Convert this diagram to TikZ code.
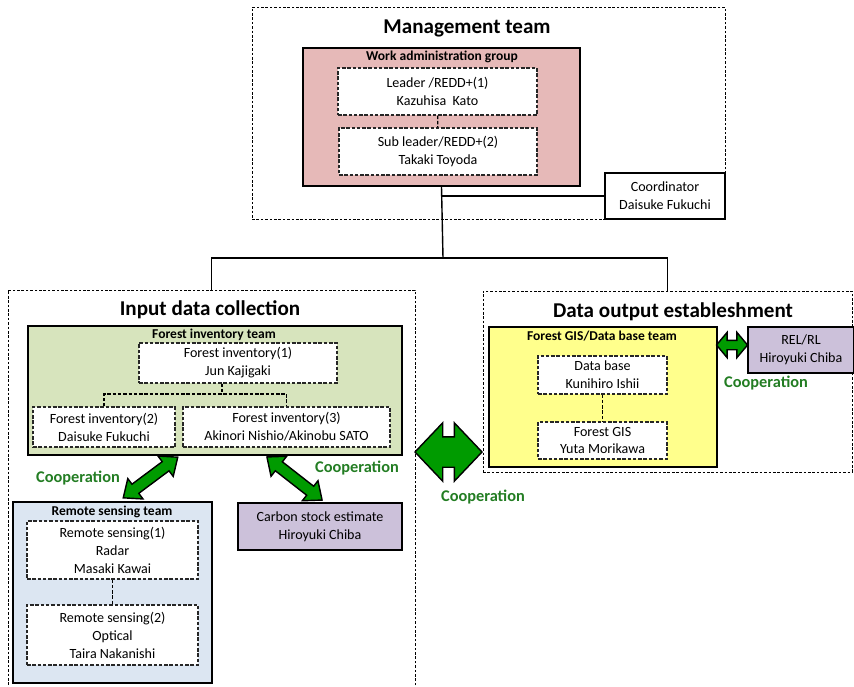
\documentclass[tikz,border=0pt]{standalone}
\usepackage{fontspec}
\setmainfont{Carlito}
\usetikzlibrary{arrows.meta,positioning,calc,shapes.arrows}
\definecolor{mgmtpink}{RGB}{230,185,184}
\definecolor{invgreen}{RGB}{215,228,189}
\definecolor{gisyellow}{RGB}{255,255,140}
\definecolor{rsblue}{RGB}{220,230,242}
\definecolor{lilac}{RGB}{204,193,218}
\definecolor{coopgreen}{RGB}{0,155,0}
\definecolor{cooptext}{RGB}{35,125,35}
\tikzset{
  sz/.style 2 args={minimum width=#1*0.02cm,minimum height=#2*0.02cm},
  area/.style={draw=black,dash pattern=on 1.5pt off 1pt,line width=.5pt,inner sep=0pt},
  team/.style={draw=black,line width=1.3pt,inner sep=0pt},
  member/.style={draw=black!85,fill=white,dash pattern=on 2pt off 1pt,line width=.7pt,
                 font=\fontsize{8}{10.2}\selectfont,align=center,inner sep=0pt},
  plain/.style={draw=black,fill=white,line width=.6pt,
                font=\fontsize{8}{10.2}\selectfont,align=center,inner sep=0pt},
  extra/.style={draw=black,fill=lilac,line width=1pt,
                font=\fontsize{8}{10.2}\selectfont,align=center,inner sep=0pt},
  ttl/.style={font=\fontsize{12}{14}\selectfont\bfseries},
  hdr/.style={font=\fontsize{7.7}{9}\selectfont\bfseries},
  coop/.style={font=\fontsize{9.3}{11}\selectfont\bfseries,text=cooptext},
  link/.style={line width=.8pt},
  tie/.style={line width=.7pt,dash pattern=on 2pt off 1pt},
  fat/.style={double arrow,draw=black,fill=coopgreen,line width=.8pt,inner xsep=0pt},
}
\begin{document}
\begin{tikzpicture}[x=0.02cm,y=-0.02cm]
  \useasboundingbox (0,0) rectangle (854,686);
  % management team
  \node[area,sz={473}{212}] (mgmt) at (488.5,113) {};
  \node[ttl] (mgmtttl) at (467,28) {Management team};
  \node[team,fill=mgmtpink,sz={277}{138}] (admin) at (441.5,117) {};
  \node[hdr] (adminhdr) at (442,57) {Work administration group};
  \node[member,sz={199}{47}] (leader) at (437.5,91.5) {Leader /REDD+(1)\\Kazuhisa\ \ Kato};
  \node[member,sz={198}{47}] (subleader) at (438,151.5) {Sub leader/REDD+(2)\\Takaki Toyoda};
  \draw[tie] (leader) -- (subleader);
  \node[plain,sz={120}{46}] (coord) at (665,196) {Coordinator\\Daisuke Fukuchi};
  \coordinate (split) at (443,258);
  \draw[link] (admin.south) -- (split);
  \draw[link] (admin.south |- coord.west) -- (coord.west);

  % input data collection
  \node[area,sz={407}{410}] (input) at (211.5,495) {};
  \node[ttl] (inputttl) at (210,310) {Input data collection};
  \node[team,fill=invgreen,sz={374}{129}] (fiteam) at (215,390.5) {};
  \node[hdr] (fihdr) at (214,335) {Forest inventory team};
  \node[member,sz={198}{40}] (fi1) at (238,363) {Forest inventory(1)\\Jun Kajigaki};
  \node[member,sz={142}{40}] (fi2) at (104,427) {Forest inventory(2)\\Daisuke Fukuchi};
  \node[member,sz={207}{40}] (fi3) at (286.5,427) {Forest inventory(3)\\Akinori Nishio/Akinobu SATO};
  \coordinate (fiknot) at (222,394);
  \draw[tie] (fiknot |- fi1.south) -- (fiknot);
  \draw[tie] (fi2.north) |- (fiknot) -| (fi3.north);

  \node[team,fill=rsblue,sz={199}{181}] (rsteam) at (112.5,592.5) {};
  \node[hdr] (rshdr) at (112,512) {Remote sensing team};
  \node[member,sz={171}{58}] (rs1) at (112.5,550) {Remote sensing(1)\\Radar\\Masaki Kawai};
  \node[member,sz={171}{60}] (rs2) at (112.5,635) {Remote sensing(2)\\Optical\\Taira Nakanishi};
  \draw[tie] (rs1) -- (rs2);
  \node[extra,sz={164}{47}] (carbon) at (320,526.5) {Carbon stock estimate\\Hiroyuki Chiba};

  \node[fat,rotate=36.7,minimum height=68*0.02cm,minimum width=24*0.02cm,inner ysep=.1cm,
        double arrow head extend=.14cm,double arrow tip angle=80] (coopfirs) at (150.5,477.5) {};
  \node[fat,rotate=-38,minimum height=70*0.02cm,minimum width=24*0.02cm,inner ysep=.1cm,
        double arrow head extend=.14cm,double arrow tip angle=80] (coopfica) at (294.5,478.5) {};
  \node[coop] (cooplbl1) at (78,478) {Cooperation};
  \node[coop] (cooplbl2) at (357,468) {Cooperation};

  % data output
  \node[area,sz={369}{181}] (output) at (667.5,381.5) {};
  \node[ttl] (outputttl) at (673,312) {Data output estableshment};
  \node[team,fill=gisyellow,sz={228}{140}] (gisteam) at (603,397) {};
  \node[hdr] (gishdr) at (602,336) {Forest GIS/Data base team};
  \node[member,sz={129}{38}] (dbase) at (602.5,375) {Data base\\Kunihiro Ishii};
  \node[member,sz={129}{37}] (gis) at (602.5,440.5) {Forest GIS\\Yuta Morikawa};
  \draw[tie] (dbase) -- (gis);
  \node[extra,sz={106}{46}] (relrl) at (801,350) {REL/RL\\Hiroyuki Chiba};
  \node[fat,minimum height=31*0.02cm,minimum width=24*0.02cm,inner ysep=.08cm,
        double arrow head extend=.16cm,double arrow tip angle=100] (coopgis) at (732,345) {};
  \node[coop] (cooplbl3) at (766,383) {Cooperation};

  \draw[link] (input.north) |- (split) -| (output.north);

  % between the two areas
  \node[fat,minimum height=67*0.02cm,minimum width=57*0.02cm,inner ysep=.29cm,
        double arrow head extend=.28cm,double arrow tip angle=93] (coopbig) at (448.5,452) {};
  \node[coop] (cooplbl4) at (483,497) {Cooperation};
\end{tikzpicture}
\end{document}
